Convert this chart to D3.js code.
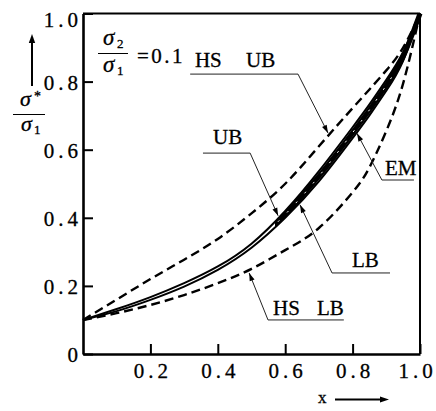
<!DOCTYPE html>
<html>
<head>
<meta charset="utf-8">
<script src="https://cdn.jsdelivr.net/npm/d3@7/dist/d3.min.js"></script>
<style>
  body { margin: 0; background: #fff; }
  text { font-family: "Liberation Serif", "DejaVu Serif", serif; fill: #000; stroke: #000; stroke-width: 0.3px; }
</style>
</head>
<body>
<script>
// volume fraction x and normalised conductivity sigma*/sigma1
const xs   = [0, 0.1, 0.2, 0.3, 0.4, 0.5, 0.6, 0.7, 0.8, 0.85, 0.9, 0.95, 1];
const hsUB = [0.1, 0.160, 0.220, 0.277, 0.338, 0.413, 0.500, 0.610, 0.722, 0.777, 0.833, 0.900, 1];
const ub   = [0.1, 0.132, 0.167, 0.208, 0.257, 0.324, 0.420, 0.537, 0.666, 0.733, 0.805, 0.887, 1];
const em   = [0.1, 0.129, 0.163, 0.203, 0.252, 0.318, 0.410, 0.522, 0.650, 0.717, 0.789, 0.874, 1];
const lb   = [0.1, 0.126, 0.159, 0.198, 0.247, 0.312, 0.400, 0.507, 0.634, 0.701, 0.773, 0.861, 1];
const hsLB = [0.1, 0.120, 0.144, 0.173, 0.208, 0.250, 0.305, 0.370, 0.475, 0.548, 0.655, 0.795, 1];

const xTicks = [0.2, 0.4, 0.6, 0.8, 1.0];
const yTicks = [0, 0.2, 0.4, 0.6, 0.8, 1.0];

// labels with leader arrows (data units)
const notes = [
  { texts: [['HS', 0.332], ['UB', 0.484]], ty: 0.843, u: [0.318, 0.638, 0.822], end: 'r', tip: [0.727, 0.649] },
  { texts: [['UB', 0.386]], ty: 0.617, u: [0.356, 0.496, 0.590], end: 'r', tip: [0.579, 0.406] },
  { texts: [['EM', 0.896]], ty: 0.526, u: [0.887, 0.982, 0.511], end: 'l', tip: [0.813, 0.648] },
  { texts: [['LB', 0.798]], ty: 0.256, u: [0.739, 0.911, 0.238], end: 'l', tip: [0.644, 0.438] },
  { texts: [['HS', 0.564], ['LB', 0.694]], ty: 0.115, u: [0.549, 0.774, 0.100], end: 'l', tip: [0.493, 0.238] }
];

const W = 436, H = 411;
const x = d3.scaleLinear().domain([0, 1]).range([83, 420]);
const y = d3.scaleLinear().domain([0, 1]).range([354, 13.5]);

const svg = d3.select('body').append('svg')
  .attr('width', W)
  .attr('height', H);

// frame top / right
svg.append('line')
  .attr('x1', x(0)).attr('x2', x(1)).attr('y1', y(1)).attr('y2', y(1))
  .attr('stroke', '#000').attr('stroke-width', 2.2);
svg.append('line')
  .attr('x1', x(1)).attr('x2', x(1)).attr('y1', y(1)).attr('y2', y(0))
  .attr('stroke', '#000').attr('stroke-width', 2);

const ls = 4;
const gx = svg.append('g')
  .attr('transform', 'translate(0,' + y(0) + ')')
  .call(d3.axisBottom(x).tickValues(xTicks).tickSize(-10).tickSizeOuter(0)
    .tickPadding(9).tickFormat(d3.format('.1f')));
const gy = svg.append('g')
  .attr('transform', 'translate(' + x(0) + ',0)')
  .call(d3.axisLeft(y).tickValues(yTicks).tickSize(-10).tickSizeOuter(0)
    .tickPadding(1).tickFormat(d => d === 0 ? '0' : d.toFixed(1)));

[gx, gy].forEach(g => {
  g.attr('font-size', 21).attr('font-family', '"Liberation Serif", serif');
  g.select('.domain').attr('stroke', '#000').attr('stroke-width', 2.6);
  g.selectAll('.tick line').attr('stroke', '#000').attr('stroke-width', 2);
  g.selectAll('.tick text').attr('fill', '#000').style('letter-spacing', ls + 'px');
});
gx.selectAll('.tick text').attr('dx', d => d === 1 ? ls / 2 - 5 : ls / 2);
gy.selectAll('.tick text').attr('dy', d => d === 1 ? '0.62em' : '0.36em');

// curves
const line = d3.line()
  .x((d, i) => x(xs[i]))
  .y(d => y(d))
  .curve(d3.curveNatural);

svg.append('clipPath').attr('id', 'band')
  .append('rect')
  .attr('x', x(0.57)).attr('y', 0)
  .attr('width', x(1) - x(0.57) + 6).attr('height', H);
svg.append('clipPath').attr('id', 'specks')
  .append('rect')
  .attr('x', x(0.57)).attr('y', 0)
  .attr('width', x(0.93) - x(0.57)).attr('height', H);

[hsUB, hsLB].forEach(s => {
  svg.append('path')
    .attr('d', line(s))
    .attr('fill', 'none')
    .attr('stroke', '#000')
    .attr('stroke-width', 2.4)
    .attr('stroke-dasharray', '9,5');
});

[ub, lb].forEach(s => {
  svg.append('path')
    .attr('d', line(s))
    .attr('fill', 'none')
    .attr('stroke', '#000')
    .attr('stroke-width', 2);
});

svg.append('path')
  .attr('d', line(em))
  .attr('clip-path', 'url(#band)')
  .attr('fill', 'none')
  .attr('stroke', '#000')
  .attr('stroke-width', 5);

svg.append('path')
  .attr('d', line(em))
  .attr('clip-path', 'url(#specks)')
  .attr('fill', 'none')
  .attr('stroke', '#fff')
  .attr('stroke-width', 1)
  .attr('stroke-dasharray', '2,11');

// arrowhead helper: tip at (tx,ty), coming from (fx,fy)
function arrowHead(g, fx, fy, tx, ty, len, hw) {
  const a = Math.atan2(ty - fy, tx - fx);
  const bx = tx - len * Math.cos(a), by = ty - len * Math.sin(a);
  const nx = -Math.sin(a) * hw, ny = Math.cos(a) * hw;
  g.append('path')
    .attr('d', 'M' + tx + ',' + ty + 'L' + (bx + nx) + ',' + (by + ny) + 'L' + (bx - nx) + ',' + (by - ny) + 'Z')
    .attr('fill', '#000');
}

const ann = svg.append('g');
notes.forEach(n => {
  n.texts.forEach(([t, tx]) => {
    ann.append('text')
      .attr('x', x(tx)).attr('y', y(n.ty))
      .attr('font-size', 21)
      .text(t);
  });
  const uy = y(n.u[2]);
  ann.append('line')
    .attr('x1', x(n.u[0])).attr('x2', x(n.u[1])).attr('y1', uy).attr('y2', uy)
    .attr('stroke', '#222').attr('stroke-width', 1);
  const fx = n.end === 'r' ? x(n.u[1]) : x(n.u[0]);
  const tx = x(n.tip[0]), ty = y(n.tip[1]);
  ann.append('line')
    .attr('x1', fx).attr('y1', uy).attr('x2', tx).attr('y2', ty)
    .attr('stroke', '#222').attr('stroke-width', 1);
  arrowHead(ann, fx, uy, tx, ty, 8, 2.6);
});

// sigma2 / sigma1 = 0.1
const ratio = svg.append('g');
ratio.append('text').attr('x', 103).attr('y', 45).attr('font-size', 23).attr('font-style', 'italic').text('σ');
ratio.append('text').attr('x', 117).attr('y', 48).attr('font-size', 13).text('2');
ratio.append('line').attr('x1', 98).attr('x2', 128).attr('y1', 53.5).attr('y2', 53.5)
  .attr('stroke', '#000').attr('stroke-width', 1);
ratio.append('text').attr('x', 103).attr('y', 72).attr('font-size', 23).attr('font-style', 'italic').text('σ');
ratio.append('text').attr('x', 117).attr('y', 75).attr('font-size', 13).text('1');
ratio.append('text').attr('x', 137).attr('y', 63).attr('font-size', 21)
  .style('letter-spacing', '2.5px').text('=0.1');

// y label: sigma* / sigma1 with up arrow
const yl = svg.append('g');
yl.append('line').attr('x1', 32).attr('x2', 32).attr('y1', 86).attr('y2', 42)
  .attr('stroke', '#000').attr('stroke-width', 2);
arrowHead(yl, 32, 86, 32, 34, 9, 3.2);
yl.append('text').attr('x', 20).attr('y', 106).attr('font-size', 22).attr('font-style', 'italic').text('σ');
yl.append('text').attr('x', 34).attr('y', 101).attr('font-size', 14).text('*');
yl.append('line').attr('x1', 13).attr('x2', 45).attr('y1', 114.5).attr('y2', 114.5)
  .attr('stroke', '#000').attr('stroke-width', 1);
yl.append('text').attr('x', 21).attr('y', 131).attr('font-size', 22).attr('font-style', 'italic').text('σ');
yl.append('text').attr('x', 34).attr('y', 134).attr('font-size', 13).text('1');

// x label with right arrow
const xl = svg.append('g');
xl.append('text').attr('x', 318).attr('y', 403).attr('font-size', 17).text('x');
xl.append('line').attr('x1', 335).attr('x2', 382).attr('y1', 399.5).attr('y2', 399.5)
  .attr('stroke', '#000').attr('stroke-width', 1.8);
arrowHead(xl, 335, 399.5, 389, 399.5, 9, 3);
</script>
</body>
</html>
